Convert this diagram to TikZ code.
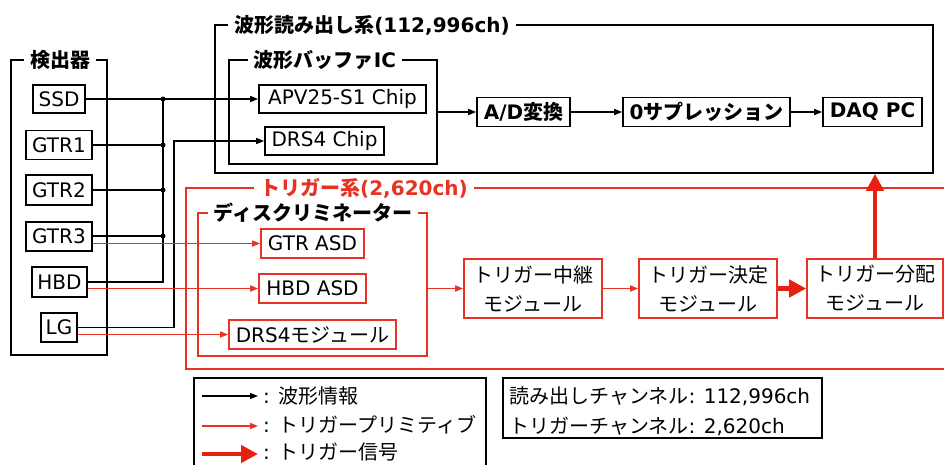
\documentclass[tikz,border=0pt]{standalone}
\usepackage{fontspec}
\setmainfont{DejaVu Sans}
\newfontfamily\jpfont{Noto Sans CJK JP}
\newcommand\jp[1]{{\jpfont #1}}
\usetikzlibrary{arrows.meta}
\definecolor{trigred}{RGB}{232,50,36}
\definecolor{sigred}{RGB}{232,32,15}
\tikzset{
  box/.style={draw=black, line width=1.6pt, inner sep=0pt, fill=white, font=\fontsize{20}{29}\selectfont, align=center},
  rbox/.style={box, draw=trigred},
  grp/.style={draw=black, line width=1.6pt},
  rgrp/.style={draw=trigred, line width=1.5pt},
  grptitle/.style={fill=white, inner xsep=6pt, inner ysep=1pt, font=\bfseries\fontsize{20}{24}\selectfont},
  wire/.style={line width=1.4pt},
  warrow/.style={wire, -{Triangle[length=8pt,width=6pt]}},
  tarrow/.style={draw=trigred, line width=1.5pt, -{Triangle[length=8pt,width=6pt]}},
  sarrow/.style={draw=sigred, fill=sigred, line width=4.5pt, -{Triangle[length=17pt,width=17pt]}},
  jdot/.style={circle, fill=black, inner sep=0pt, minimum size=5pt},
  plain/.style={inner sep=0pt, font=\fontsize{20}{30}\selectfont, align=left},
}
\begin{document}
\begin{tikzpicture}[x=1pt,y=-1pt]
\useasboundingbox (0,0) rectangle (944,464);
% group frames
\draw[grp] (11,60) rectangle (107,355);
\node[grp, minimum width=718, minimum height=148, inner sep=0pt] (wave) at (574,99) {};
\node[grp, minimum width=208, minimum height=104, inner sep=0pt] (buf) at (333,112) {};
\draw[rgrp] (945,188) -- (186,188) -- (186,369) -- (945,369);
\node[rgrp, minimum width=229, minimum height=143, inner sep=0pt] (disc) at (312.5,284.5) {};
% titles
\node[grptitle] (tdet) at (60,60) {\jp{検出器}};
\node[grptitle] (twave) at (372,25) {\jp{波形読み出し系}(112,996ch)};
\node[grptitle] (tbuf) at (325,60) {\jp{波形バッファ}IC};
\node[grptitle, text=trigred] (ttrig) at (364,188) {\jp{トリガー系}(2,620ch)};
\node[grptitle] (tdisc) at (313,213) {\jp{ディスクリミネーター}};
% detectors
\node[box, minimum width=52, minimum height=28] (SSD) at (59,99) {SSD};
\node[box, minimum width=66, minimum height=29] (GTR1) at (59,145) {GTR1};
\node[box, minimum width=66, minimum height=30] (GTR2) at (59,190) {GTR2};
\node[box, minimum width=66, minimum height=29] (GTR3) at (59,236.5) {GTR3};
\node[box, minimum width=55, minimum height=30] (HBD) at (59.5,282) {HBD};
\node[box, minimum width=36, minimum height=29] (LG) at (59,327.5) {LG};
% readout
\node[box, minimum width=167, minimum height=28] (APV) at (342.5,99) {APV25-S1 Chip};
\node[box, minimum width=119, minimum height=28] (DRSc) at (324.5,141) {DRS4 Chip};
\node[box, minimum width=93, minimum height=29, font=\bfseries\fontsize{20}{24}\selectfont] (AD) at (523.5,112) {A/D\jp{変換}};
\node[box, minimum width=167, minimum height=29, font=\bfseries\fontsize{20}{24}\selectfont] (ZS) at (706.5,112) {0\jp{サプレッション}};
\node[box, minimum width=99, minimum height=29, font=\bfseries\fontsize{20}{24}\selectfont] (DAQ) at (872.5,112) {DAQ PC};
% trigger
\node[rbox, minimum width=103, minimum height=29] (GASD) at (312.5,243.5) {GTR ASD};
\node[rbox, minimum width=107, minimum height=29] (HASD) at (312.5,288.5) {HBD ASD};
\node[rbox, minimum width=167, minimum height=29] (DRSm) at (312.5,334.5) {DRS4\jp{モジュール}};
\node[rbox, minimum width=138, minimum height=59] (relay) at (533,288.5) {\jp{トリガー中継}\\\jp{モジュール}};
\node[rbox, minimum width=138, minimum height=59] (decide) at (708,288.5) {\jp{トリガー決定}\\\jp{モジュール}};
\node[rbox, minimum width=136, minimum height=59] (dist) at (875,288.5) {\jp{トリガー分配}\\\jp{モジュール}};
% junctions
\node[jdot] (j1) at (163,99) {};
\node[jdot] (j2) at (163,145) {};
\node[jdot] (j3) at (163,190) {};
\node[jdot] (j4) at (163,236) {};
\coordinate (lgx) at (174,0);
% black wiring
\draw[warrow] (SSD.east) -- (APV.west);
\draw[wire] (GTR1.east) -- (j2.center);
\draw[wire] (GTR2.east) -- (j3.center);
\draw[wire] (GTR3.east |- j4) -- (j4.center);
\draw[wire] (j1.center) |- (HBD.east);
\draw[warrow] (LG.east) -- (LG.east -| lgx) |- (DRSc.west);
\draw[warrow] (buf.east |- AD) -- (AD.west);
\draw[warrow] (AD.east) -- (ZS.west);
\draw[warrow] (ZS.east) -- (DAQ.west);
% red wiring
\draw[tarrow] (GTR3.east |- GASD) -- (GASD.west);
\draw[tarrow] (HBD.east |- HASD) -- (HASD.west);
\draw[tarrow] (LG.east |- DRSm) -- (DRSm.west);
\draw[tarrow] (disc.east |- relay) -- (relay.west);
\draw[tarrow] (relay.east) -- (decide.west);
\draw[sarrow] (decide.east) -- (dist.west);
\draw[sarrow] (dist.north) -- (dist.north |- wave.south);
% legend
\draw[grp] (194,466) -- (194,378) -- (486,378) -- (486,466);
\coordinate (la1) at (202,396); \coordinate (lb1) at (258,396);
\coordinate (la2) at (202,426); \coordinate (lb2) at (258,426);
\coordinate (la3) at (202,454); \coordinate (lb3) at (258,454);
\draw[warrow] (la1) -- (lb1);
\draw[tarrow] (la2) -- (lb2);
\draw[sarrow] (la3) -- (lb3);
\node[plain, anchor=west] (lt1) at (263,396) {: \jp{波形情報}};
\node[plain, anchor=west] (lt2) at (263,425) {: \jp{トリガープリミティブ}};
\node[plain, anchor=west] (lt3) at (263,451.5) {: \jp{トリガー信号}};
% channel box
\node[grp, minimum width=319, minimum height=60, inner sep=0pt] (chbox) at (662.5,408) {};
\node[plain, anchor=west] (chtext) at (509,411) {\jp{読み出しチャンネル}: 112,996ch\\\jp{トリガーチャンネル}: 2,620ch};
\end{tikzpicture}
\end{document}
